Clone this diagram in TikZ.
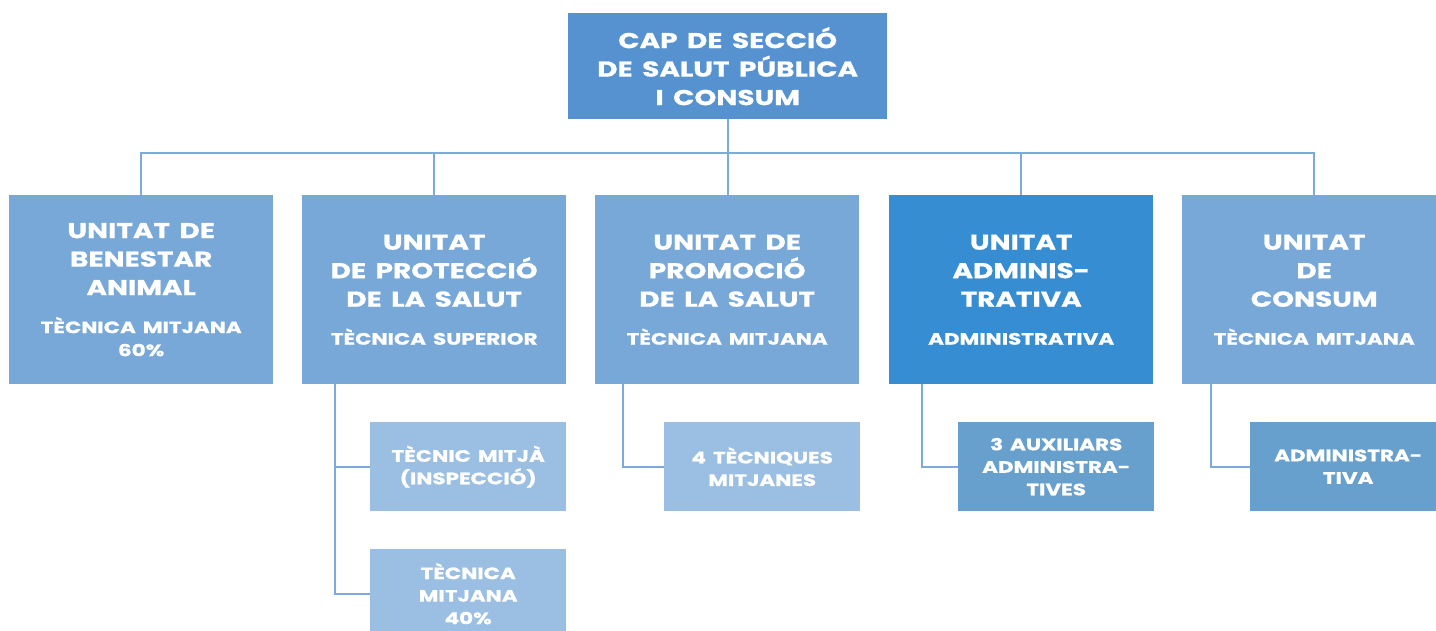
\documentclass[tikz,border=0pt]{standalone}
\usepackage{fontspec}
\setmainfont{Poppins}[FakeStretch=1.3,BoldFeatures={FakeStretch=1.3,FakeBold=0.8}]
\definecolor{ctop}{HTML}{5592CF}
\definecolor{cunit}{HTML}{78A8D8}
\definecolor{cadm}{HTML}{368DD2}
\definecolor{cchl}{HTML}{9BBFE2}
\definecolor{cchd}{HTML}{68A0CD}
\definecolor{cline}{HTML}{7BAADB}
\newcommand{\ttl}{\fontsize{21.5}{28.5}\selectfont\bfseries\spaceskip=9.5pt\relax}
\newcommand{\sbt}{\fontsize{16.5}{23}\selectfont\bfseries\spaceskip=7pt\relax}
\newcommand{\chd}{\fontsize{16.5}{22.5}\selectfont\bfseries\spaceskip=7pt\relax}
\tikzset{
  boxbase/.style={rectangle, inner sep=0pt, text=white, align=center, anchor=north west},
  topbox/.style={boxbase, fill=ctop, minimum width=319pt, minimum height=106pt, text width=310pt},
  unitbox/.style={boxbase, fill=cunit, minimum width=264pt, minimum height=189pt, text width=260pt},
  admbox/.style={unitbox, fill=cadm},
  chlbox/.style={boxbase, fill=cchl, minimum width=196pt, minimum height=89pt, text width=192pt},
  chdbox/.style={chlbox, fill=cchd},
  link/.style={draw=cline, line width=2pt}
}
\begin{document}
\begin{tikzpicture}[x=1pt,y=-1pt]
\useasboundingbox (0,0) rectangle (1436,631);
\begin{scope}
\clip (0,0) rectangle (1436,631);
\node[topbox] (top) at (568,13) {\ttl CAP DE SECCIÓ\\DE SALUT PÚBLICA\\I CONSUM\par};
\node[unitbox] (u1) at (9,195) {{\ttl UNITAT DE\\BENESTAR\\ANIMAL\par}\vspace{15pt}{\sbt TÈCNICA MITJANA\\60\%\par}};
\node[unitbox] (u2) at (302,195) {{\ttl UNITAT\\DE PROTECCIÓ\\DE LA SALUT\par}\vspace{15pt}{\sbt TÈCNICA SUPERIOR\par}};
\node[unitbox] (u3) at (595,195) {{\ttl UNITAT DE\\PROMOCIÓ\\DE LA SALUT\par}\vspace{15pt}{\sbt TÈCNICA MITJANA\par}};
\node[admbox] (u4) at (889,195) {{\ttl UNITAT\\ADMINIS-\\TRATIVA\par}\vspace{15pt}{\sbt ADMINISTRATIVA\par}};
\node[unitbox] (u5) at (1182,195) {{\ttl UNITAT\\DE\\CONSUM\par}\vspace{15pt}{\sbt TÈCNICA MITJANA\par}};
\node[chlbox] (c1) at (370,422) {\chd TÈCNIC MITJÀ\\(INSPECCIÓ)\par};
\node[chlbox] (c2) at (370,549) {\chd TÈCNICA\\MITJANA\\40\%\par};
\node[chlbox] (c3) at (664,422) {\chd 4 TÈCNIQUES\\MITJANES\par};
\node[chdbox] (c4) at (958,422) {\chd 3 AUXILIARS\\ADMINISTRA-\\TIVES\par};
\node[chdbox] (c5) at (1250,422) {\chd ADMINISTRA-\\TIVA\par};
\end{scope}
\coordinate (bus) at (727.5,153);
\draw[link] (u1.north) |- (bus) -| (u5.north);
\draw[link] (top.south) -- (top.south |- u3.north);
\draw[link] (u2.north) -- (u2.north |- bus);
\draw[link] (u4.north) -- (u4.north |- bus);
\draw[link] ([xshift=33pt]u2.south west) |- (c1.west);
\draw[link] ([xshift=33pt]u2.south west) |- (c2.west);
\draw[link] ([xshift=28pt]u3.south west) |- (c3.west);
\draw[link] ([xshift=33pt]u4.south west) |- (c4.west);
\draw[link] ([xshift=29pt]u5.south west) |- (c5.west);
\end{tikzpicture}
\end{document}
